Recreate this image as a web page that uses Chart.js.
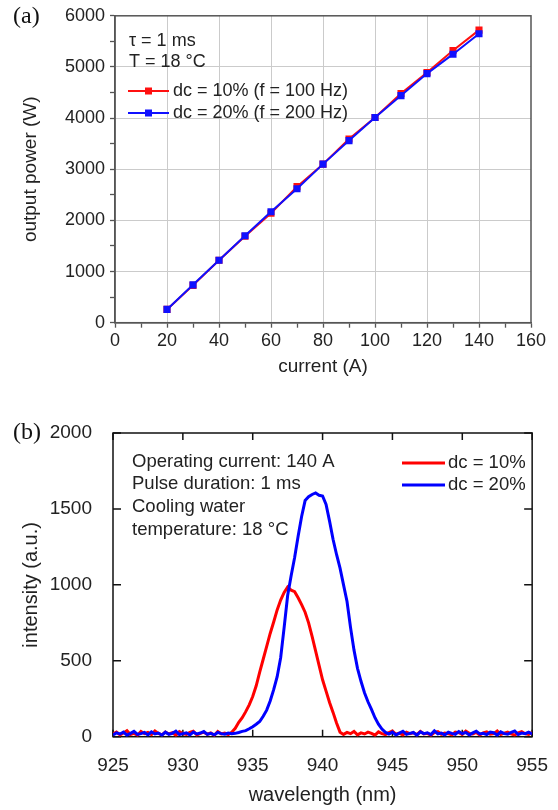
<!DOCTYPE html>
<html><head><meta charset="utf-8">
<script src="https://cdn.jsdelivr.net/npm/chart.js@4/dist/chart.umd.min.js"></script>
<style>
html,body{margin:0;padding:0;background:#fff;width:558px;height:810px;overflow:hidden}
#c1{position:absolute;left:0;top:0;width:558px;height:380px}
#c2{position:absolute;left:0;top:400px;width:558px;height:410px}
</style></head><body>
<canvas id="c1" width="558" height="380"></canvas>
<canvas id="c2" width="558" height="410"></canvas>
<script>
// ---- Panel (a): output power vs current ----
const current = [20, 30, 40, 50, 60, 70, 80, 90, 100, 110, 120, 130, 140];
const power10 = [260, 730, 1220, 1690, 2140, 2660, 3100, 3590, 4010, 4480, 4890, 5320, 5720];
const power20 = [260, 740, 1220, 1700, 2170, 2620, 3100, 3560, 4010, 4440, 4870, 5250, 5650];
const xLabelsA = [0, 20, 40, 60, 80, 100, 120, 140, 160];
const yLabelsA = [0, 1000, 2000, 3000, 4000, 5000, 6000];

// ---- Panel (b): spectra ----
const wavelength = [
925,925.25,925.5,925.75,926,926.25,926.5,926.75,927,927.25,927.5,927.75,928,928.25,928.5,928.75,
929,929.25,929.5,929.75,930,930.25,930.5,930.75,931,931.25,931.5,931.75,932,932.25,932.5,932.75,
933,933.25,933.5,933.75,934,934.25,934.5,934.75,935,935.25,935.5,935.75,936,936.25,936.5,936.75,
937,937.25,937.5,937.75,938,938.25,938.5,938.75,939,939.25,939.5,939.75,940,940.25,940.5,940.75,
941,941.25,941.5,941.75,942,942.25,942.5,942.75,943,943.25,943.5,943.75,944,944.25,944.5,944.75,
945,945.25,945.5,945.75,946,946.25,946.5,946.75,947,947.25,947.5,947.75,948,948.25,948.5,948.75,
949,949.25,949.5,949.75,950,950.25,950.5,950.75,951,951.25,951.5,951.75,952,952.25,952.5,952.75,
953,953.25,953.5,953.75,954,954.25,954.5,954.75,955];
const intensity10 = [
18,30,12,25,40,15,22,10,35,20,28,14,38,22,12,30,18,26,10,33,20,15,28,36,12,22,30,16,25,10,34,18,24,14,30,
55,95,125,165,210,265,335,425,510,595,680,755,835,900,950,985,965,955,915,870,820,750,660,565,470,375,300,225,160,90,30,
15,28,20,35,12,25,18,30,22,10,32,20,14,27,38,16,24,12,30,20,26,14,35,18,22,10,28,34,16,24,20,12,30,26,15,36,22,18,28,12,25,32,16,20,38,14,24,30,18,10,26,34,20,15,28];
const intensity20 = [
12,25,18,30,10,22,35,15,20,28,12,32,18,24,10,30,16,22,36,14,20,26,12,30,18,24,34,15,22,12,28,20,16,24,
20,22,28,35,40,52,66,82,100,135,175,235,310,395,520,720,930,1060,1180,1320,1450,1555,1580,1595,1605,1590,1585,1530,1420,1300,1200,1110,1000,890,720,570,450,365,290,230,180,125,82,50,28,
18,30,12,24,36,15,22,28,10,32,20,26,14,38,18,24,12,30,22,16,34,20,28,12,25,36,18,22,14,30,26,10,32,20,16,28,38,14,24,20,30,18];
const xLabelsB = [925, 930, 935, 940, 945, 950, 955];
const yLabelsB = [0, 500, 1000, 1500, 2000];

const SANS = '"Liberation Sans", Arial, sans-serif';
const SERIF = '"Liberation Serif", "Times New Roman", serif';

function txt(ctx, s, x, y, size, color, font, align) {
  ctx.save();
  ctx.font = size + 'px ' + (font || SANS);
  ctx.fillStyle = color || '#222';
  ctx.textAlign = align || 'left';
  ctx.textBaseline = 'middle';
  ctx.fillText(s, x, y);
  ctx.restore();
}

const frameA = {
  id: 'frameA',
  beforeDatasetsDraw(chart) {
    const {ctx, chartArea: a} = chart;
    ctx.save();
    ctx.strokeStyle = '#555';
    ctx.lineWidth = 1.5;
    ctx.strokeRect(a.left, a.top, a.right - a.left, a.bottom - a.top);
    ctx.restore();
  },
  afterDraw(chart) {
    const ctx = chart.ctx;
    txt(ctx, '(a)', 13, 17, 24, '#111', SERIF);
    txt(ctx, '\u03C4 = 1 ms', 129, 41, 18);
    txt(ctx, 'T = 18 \u00B0C', 129, 62, 18);
    const leg = [['#ff1010', 91, 'dc = 10% (f = 100 Hz)'], ['#1010ff', 113, 'dc = 20% (f = 200 Hz)']];
    leg.forEach(([c, y, s]) => {
      ctx.save();
      ctx.strokeStyle = c; ctx.lineWidth = 1.8;
      ctx.beginPath(); ctx.moveTo(128, y); ctx.lineTo(169, y); ctx.stroke();
      ctx.fillStyle = c; ctx.fillRect(145, y - 3.5, 7, 7);
      ctx.restore();
      txt(ctx, s, 173, y, 18);
    });
  }
};

new Chart(document.getElementById('c1'), {
  type: 'line',
  data: {
    datasets: [
      {label: 'dc = 20% (f = 200 Hz)', data: current.map((c, i) => ({x: c, y: power20[i]})),
       borderColor: '#1010ff', backgroundColor: '#1010ff', borderWidth: 2,
       pointStyle: 'rect', pointRadius: 5, pointBorderWidth: 0, order: 0},
      {label: 'dc = 10% (f = 100 Hz)', data: current.map((c, i) => ({x: c, y: power10[i]})),
       borderColor: '#ff1010', backgroundColor: '#ff1010', borderWidth: 2,
       pointStyle: 'rect', pointRadius: 5, pointBorderWidth: 0, order: 1}
    ]
  },
  options: {
    responsive: false, animation: false, devicePixelRatio: 1,
    layout: {padding: {top: 15.5, right: 27, left: 0, bottom: 0}},
    plugins: {legend: {display: false}, tooltip: {enabled: false}},
    scales: {
      x: {
        type: 'linear', min: 0, max: 160,
        afterFit(s) { s.height = 57.3; },
        ticks: {stepSize: 10, autoSkip: false, maxRotation: 0, padding: 3, color: '#222',
          font: {family: SANS, size: 18},
          callback: v => xLabelsA.includes(v) ? String(v) : ''},
        grid: {
          color: c => (c.tick && xLabelsA.includes(c.tick.value) && c.tick.value !== 0 && c.tick.value !== 160) ? '#cbcbcb' : 'rgba(0,0,0,0)',
          tickColor: '#555', tickLength: 5, lineWidth: 1, tickWidth: 1.3
        },
        border: {color: '#555', width: 1.5},
        title: {display: true, text: 'current (A)', color: '#222', font: {family: SANS, size: 19}, padding: {top: 0, bottom: 2}}
      },
      y: {
        type: 'linear', min: 0, max: 6000,
        afterFit(s) { s.width = 115; },
        ticks: {stepSize: 500, autoSkip: false, padding: 5, color: '#222',
          font: {family: SANS, size: 18},
          callback: v => yLabelsA.includes(v) ? String(v) : ''},
        grid: {
          color: c => (c.tick && yLabelsA.includes(c.tick.value) && c.tick.value !== 0 && c.tick.value !== 6000) ? '#cbcbcb' : 'rgba(0,0,0,0)',
          tickColor: '#555', tickLength: 5, lineWidth: 1, tickWidth: 1.3
        },
        border: {color: '#555', width: 1.5},
        title: {display: true, text: 'output power (W)', color: '#222', font: {family: SANS, size: 19}, padding: {top: 19.5, bottom: 0}}
      }
    }
  },
  plugins: [frameA]
});

const frameB = {
  id: 'frameB',
  beforeDatasetsDraw(chart) {
    const {ctx, chartArea: a, scales: {x, y}} = chart;
    ctx.save();
    ctx.strokeStyle = '#111';
    ctx.lineWidth = 1.5;
    ctx.strokeRect(a.left, a.top, a.right - a.left, a.bottom - a.top);
    ctx.beginPath();
    x.ticks.forEach(t => {
      const p = x.getPixelForValue(t.value);
      ctx.moveTo(p, a.bottom); ctx.lineTo(p, a.bottom - 7);
      ctx.moveTo(p, a.top); ctx.lineTo(p, a.top + 7);
    });
    y.ticks.forEach(t => {
      const p = y.getPixelForValue(t.value);
      ctx.moveTo(a.left, p); ctx.lineTo(a.left + 8, p);
      ctx.moveTo(a.right, p); ctx.lineTo(a.right - 8, p);
    });
    ctx.stroke();
    ctx.restore();
  },
  afterDraw(chart) {
    const ctx = chart.ctx;
    txt(ctx, '(b)', 13, 33, 24, '#111', SERIF);
    txt(ctx, 'Operating current: 140 A', 132, 62, 18.5);
    txt(ctx, 'Pulse duration: 1 ms', 132, 84, 18.5);
    txt(ctx, 'Cooling water', 132, 107, 18.5);
    txt(ctx, 'temperature: 18 \u00B0C', 132, 130, 18.5);
    const leg = [['#ff0000', 63, 'dc = 10%'], ['#0000ff', 85, 'dc = 20%']];
    leg.forEach(([c, y, s]) => {
      ctx.save();
      ctx.strokeStyle = c; ctx.lineWidth = 3;
      ctx.beginPath(); ctx.moveTo(402, y); ctx.lineTo(445, y); ctx.stroke();
      ctx.restore();
      txt(ctx, s, 448, y, 18.5);
    });
  }
};

new Chart(document.getElementById('c2'), {
  type: 'line',
  data: {
    datasets: [
      {label: 'dc = 20%', data: wavelength.map((w, i) => ({x: w, y: intensity20[i]})),
       borderColor: '#0000ff', borderWidth: 3, pointRadius: 0, tension: 0, order: 0},
      {label: 'dc = 10%', data: wavelength.map((w, i) => ({x: w, y: intensity10[i]})),
       borderColor: '#ff0000', borderWidth: 3, pointRadius: 0, tension: 0, order: 1}
    ]
  },
  options: {
    responsive: false, animation: false, devicePixelRatio: 1,
    layout: {padding: {top: 33, right: 25, left: 0, bottom: 0}},
    plugins: {legend: {display: false}, tooltip: {enabled: false}},
    scales: {
      x: {
        type: 'linear', min: 925, max: 955,
        afterFit(s) { s.height = 73.3; },
        ticks: {stepSize: 5, autoSkip: false, maxRotation: 0, padding: 10, color: '#222',
          font: {family: SANS, size: 19},
          callback: v => xLabelsB.includes(v) ? String(v) : ''},
        grid: {display: false},
        border: {display: false},
        title: {display: true, text: 'wavelength (nm)', color: '#222', font: {family: SANS, size: 20}, padding: {top: 0, bottom: 3}}
      },
      y: {
        type: 'linear', min: 0, max: 2000,
        afterFit(s) { s.width = 113; },
        ticks: {stepSize: 500, autoSkip: false, padding: 13, color: '#222',
          font: {family: SANS, size: 19},
          callback: v => yLabelsB.includes(v) ? String(v) : ''},
        grid: {display: false},
        border: {display: false},
        title: {display: true, text: 'intensity (a.u.)', color: '#222', font: {family: SANS, size: 20}, padding: {top: 19, bottom: 0}}
      }
    }
  },
  plugins: [frameB]
});
</script>
</body></html>
